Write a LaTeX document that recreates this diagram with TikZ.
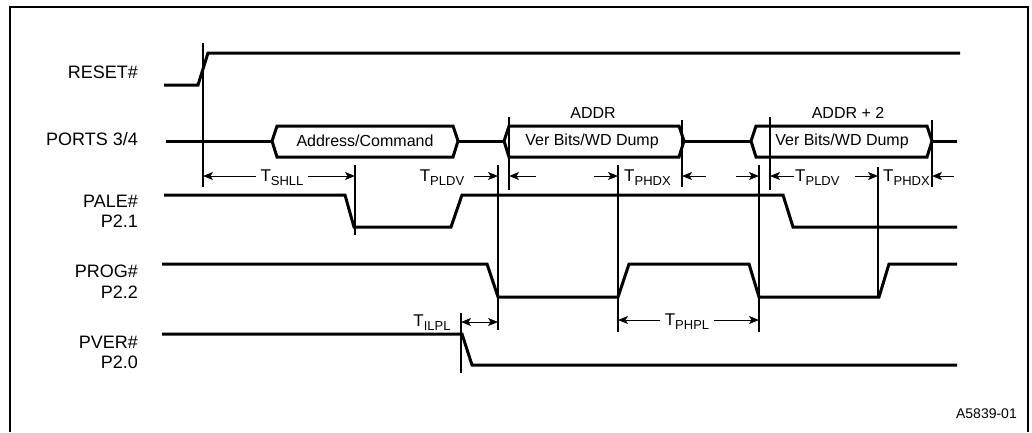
\documentclass[tikz,border=0pt]{standalone}
\usepackage{fontspec}
\setmainfont{Liberation Sans}
\usetikzlibrary{arrows.meta}
\newcommand{\tlab}[1]{T\raisebox{-4.5pt}{\fontsize{13}{13}\selectfont #1}}
\begin{document}
\begin{tikzpicture}[x=1pt,y=-1pt,
  sig/.style={line width=3pt, line join=miter, line cap=butt},
  busbox/.style={line width=3pt, line join=miter},
  refline/.style={line width=1.8pt},
  dimarrow/.style={line width=1pt, -{Stealth[length=10pt,width=8pt,inset=2.5pt]}},
  dimboth/.style={line width=1pt, {Stealth[length=10pt,width=8pt,inset=2.5pt]}-{Stealth[length=10pt,width=8pt,inset=2.5pt]}},
  signame/.style={font=\fontsize{18}{18}\selectfont, anchor=base east, inner sep=0pt},
  bustext/.style={font=\fontsize{16}{16}\selectfont, inner sep=0pt},
  tname/.style={font=\fontsize{17}{17}\selectfont, anchor=base, inner sep=0pt},
  frame/.style={line width=1.5pt}
]
\useasboundingbox (0,0) rectangle (1032,432);
\draw[frame] (10,432) -- (10,7) -- (1028,7) -- (1028,432);

% signal names
\node[signame] (nreset) at (138,78) {RESET\#};
\node[signame] (nports) at (138,145) {PORTS 3/4};
\node[signame] (npale) at (138,207) {PALE\#};
\node[signame] (np21) at (138,227) {P2.1};
\node[signame] (nprog) at (138,277) {PROG\#};
\node[signame] (np22) at (138,298) {P2.2};
\node[signame] (npver) at (138,348) {PVER\#};
\node[signame] (np20) at (138,368) {P2.0};

% RESET#
\draw[sig] (164,85) -- (198,85) -- (208,53) -- (960,53);

% PORTS 3/4
\draw[sig] (166,141) -- (272,141);
\draw[busbox] (272,141) -- (277,126) -- (453,126) -- (458,141) -- (453,157) -- (277,157) -- cycle;
\draw[sig] (458,141) -- (504,141);
\draw[busbox] (504,141) -- (509,126) -- (679,126) -- (684,141) -- (679,157) -- (509,157) -- cycle;
\draw[sig] (684,141) -- (751,141);
\draw[busbox] (751,141) -- (756,126) -- (927,126) -- (932,141) -- (927,157) -- (756,157) -- cycle;
\draw[sig] (932,141) -- (957,141);
\node[bustext] (bus1) at (365,141) {Address/Command};
\node[bustext] (bus2) at (592,141) {Ver Bits/WD Dump};
\node[bustext] (bus3) at (842,141) {Ver Bits/WD Dump};
\node[bustext] (addr1) at (593,113) {ADDR};
\node[bustext] (addr2) at (848,113) {ADDR + 2};

% PALE#
\draw[sig] (164,195) -- (345,195) -- (354,227) -- (451,227) -- (462,195) -- (783,195) -- (793,227) -- (957,227);
% PROG#
\draw[sig] (162,264) -- (487,264) -- (498,297) -- (618,297) -- (629,264) -- (749,264) -- (759,297) -- (879,297) -- (889,264) -- (957,264);
% PVER#
\draw[sig] (162,334) -- (462,334) -- (472,365) -- (957,365);

% reference lines
\coordinate (r1t) at (203,43);  \coordinate (r1b) at (203,187);
\coordinate (r2t) at (355,165); \coordinate (r2b) at (355,235);
\coordinate (r3t) at (498,165); \coordinate (r3b) at (498,330);
\coordinate (r4t) at (509,117); \coordinate (r4b) at (509,190);
\coordinate (r5t) at (618,165); \coordinate (r5b) at (618,332);
\coordinate (r6t) at (682,120); \coordinate (r6b) at (682,187);
\coordinate (r7t) at (759,165); \coordinate (r7b) at (759,332);
\coordinate (r8t) at (770,117); \coordinate (r8b) at (770,190);
\coordinate (r9t) at (878,167); \coordinate (r9b) at (878,297);
\coordinate (r10t) at (932,120); \coordinate (r10b) at (932,187);
\coordinate (r11t) at (461,313); \coordinate (r11b) at (461,373);
\foreach \i in {1,...,11} {\draw[refline] (r\i t) -- (r\i b);}

% T_SHLL
\node[tname] (tshll) at (282,181) {\tlab{SHLL}};
\coordinate (a1) at (256,176); \coordinate (a2) at (308,176);
\draw[dimarrow] (a1) -- (203,176);
\draw[dimarrow] (a2) -- (355,176);

% T_PLDV (1)
\node[tname] (tpldv1) at (442,181) {\tlab{PLDV}};
\coordinate (b1) at (474,176); \coordinate (b2) at (536,176);
\draw[dimarrow] (b1) -- (498,176);
\draw[dimarrow] (b2) -- (509,176);

% T_PHDX (1)
\node[tname, anchor=base west] (tphdx1) at (624,181) {\tlab{PHDX}};
\coordinate (c1) at (594,176); \coordinate (c2) at (706,176);
\draw[dimarrow] (c1) -- (618,176);
\draw[dimarrow] (c2) -- (682,176);

% T_PLDV (2)
\node[tname, anchor=base west] (tpldv2) at (795,181) {\tlab{PLDV}};
\coordinate (d1) at (736,176); \coordinate (d2) at (794,176);
\draw[dimarrow] (d1) -- (759,176);
\draw[dimarrow] (d2) -- (770,176);

% T_PHDX (2)
\node[tname, anchor=base west] (tphdx2) at (883,181) {\tlab{PHDX}};
\coordinate (e1) at (855,176); \coordinate (e2) at (954,176);
\draw[dimarrow] (e1) -- (878,176);
\draw[dimarrow] (e2) -- (932,176);

% T_ILPL
\node[tname] (tilpl) at (432,326) {\tlab{ILPL}};
\draw[dimboth] (461,322) -- (498,322);

% T_PHPL
\node[tname] (tphpl) at (687,325) {\tlab{PHPL}};
\coordinate (f1) at (660,320); \coordinate (f2) at (714,320);
\draw[dimarrow] (f1) -- (618,320);
\draw[dimarrow] (f2) -- (759,320);

\node[font=\fontsize{14}{14}\selectfont, anchor=base east, inner sep=0pt] (fig) at (1017,418) {A5839-01};
\end{tikzpicture}
\end{document}
